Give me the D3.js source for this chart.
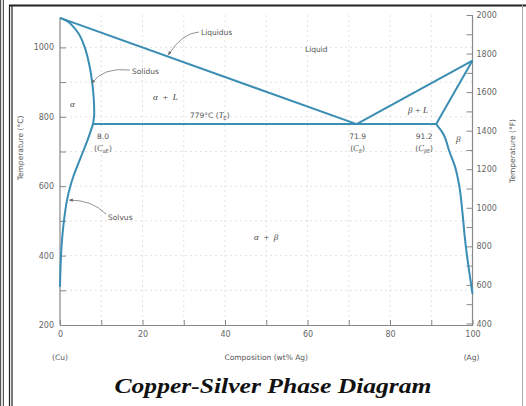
<!DOCTYPE html>
<html>
<head>
<meta charset="utf-8">
<script src="https://cdn.jsdelivr.net/npm/d3@7"></script>
<style>
  html, body { margin: 0; padding: 0; background: #ffffff; }
  svg { display: block; }
  .tick-label { font-family: "DejaVu Sans", sans-serif; font-size: 8px; fill: #666; }
  .note { font-family: "DejaVu Sans", sans-serif; font-size: 7.5px; fill: #555; }
  .greek { font-family: "Liberation Serif", serif; font-style: italic; font-size: 9px; fill: #444; }
</style>
</head>
<body>
<svg id="chart" width="526" height="406"></svg>
<script>
// Composition axis (wt% Ag) and temperature axes
const compTicks = [0, 20, 40, 60, 80, 100];
const compMinorTicks = [10, 30, 50, 70, 90];
const tempCTicks = [200, 400, 600, 800, 1000];
const tempCMinorTicks = [300, 500, 700, 900];
const tempFTicks = [400, 600, 800, 1000, 1200, 1400, 1600, 1800, 2000];
const tempFMinorTicks = [500, 700, 900, 1100, 1300, 1500, 1700, 1900];

// Phase boundaries as [wt% Ag, °C]
const liquidusAlpha = [[0, 1085], [71.9, 779]];
const liquidusBeta = [[71.9, 779], [100, 962]];
const solidusAlpha = [[0, 1085], [1.8, 1075], [3.2, 1060], [4.5, 1040], [6.0, 1000], [7.1, 950],
                      [7.8, 900], [8.2, 850], [8.3, 810], [8.0, 779]];
const solvusAlpha = [[8.0, 779], [6.9, 740], [5.6, 700], [4.5, 667], [3.3, 630], [2.5, 600],
                     [1.7, 560], [1.2, 523], [0.6, 460], [0.25, 400], [0, 310]];
const solidusBeta = [[91.2, 779], [100, 962]];
const solvusBeta = [[91.2, 779], [92.8, 753], [94.4, 700], [95.8, 655], [96.8, 600], [97.6, 520],
                    [98.2, 445], [98.8, 388], [99.5, 330], [100, 290]];
const eutectic = [[8.0, 779], [91.2, 779]];

// Invariant-point values
const eutecticTemp = 779;
const cAlphaE = 8.0, cE = 71.9, cBetaE = 91.2;

const svg = d3.select("#chart");
const lineColor = "#3a8db3";

const x = d3.scaleLinear().domain([0, 100]).range([60, 472.5]);
const y = d3.scaleLinear().domain([200, 1000]).range([325, 47.4]);
const fToC = f => (f - 32) * 5 / 9;
// Fahrenheit scale sharing the same pixel range (200 °C = 392 °F, 1000 °C = 1832 °F)
const yF = d3.scaleLinear().domain([392, 1832]).range([325, 47.4]);
const topC = fToC(2000);

// Frame
svg.append("rect").attr("x", 0.5).attr("y", -2).attr("width", 3).attr("height", 410)
  .attr("fill", "#ddd").attr("stroke", "#555").attr("stroke-width", 1);
svg.append("line").attr("x1", 9.5).attr("x2", 9.5).attr("y1", 5).attr("y2", 406)
  .attr("stroke", "#222").attr("stroke-width", 1.2);
svg.append("line").attr("x1", 12).attr("x2", 12).attr("y1", 5).attr("y2", 406)
  .attr("stroke", "#222").attr("stroke-width", 1.2);
svg.append("line").attr("x1", 9).attr("x2", 526).attr("y1", 5.5).attr("y2", 5.5)
  .attr("stroke", "#222").attr("stroke-width", 1.8);
svg.append("line").attr("x1", 522.5).attr("x2", 522.5).attr("y1", 5).attr("y2", 406)
  .attr("stroke", "#aaa").attr("stroke-width", 1);

// Grid
const grid = svg.append("g").attr("stroke", "#dcdcdc").attr("stroke-width", 0.8).attr("stroke-dasharray", "2,3");
d3.range(10, 100, 10).forEach(c => {
  grid.append("line").attr("x1", x(c)).attr("x2", x(c)).attr("y1", y(topC)).attr("y2", y(200));
});
d3.range(300, 1100, 100).forEach(t => {
  grid.append("line").attr("x1", x(0)).attr("x2", x(100)).attr("y1", y(t)).attr("y2", y(t));
});

// Axes (ticks pointing inward)
const axisColor = "#888";
const gx = svg.append("g").attr("transform", `translate(0,${y(200)})`)
  .call(d3.axisBottom(x).tickValues(compTicks).tickSize(0).tickPadding(6).tickFormat(d3.format("d")));
gx.select(".domain").attr("stroke", axisColor).attr("stroke-width", 1.2);
gx.selectAll("text").attr("class", "tick-label");
const gxIn = svg.append("g").attr("transform", `translate(0,${y(200)})`)
  .call(d3.axisTop(x).tickValues(compTicks.concat(compMinorTicks)).tickSize(5).tickFormat(""));
gxIn.select(".domain").remove();
gxIn.selectAll("line").attr("stroke", axisColor);

const gyL = svg.append("g").attr("transform", `translate(${x(0)},0)`)
  .call(d3.axisLeft(y).tickValues(tempCTicks).tickSize(0).tickPadding(6).tickFormat(d3.format("d")));
gyL.select(".domain").remove();
gyL.selectAll("text").attr("class", "tick-label");
const gyLIn = svg.append("g").attr("transform", `translate(${x(0)},0)`)
  .call(d3.axisRight(y).tickValues(tempCTicks.concat(tempCMinorTicks)).tickSize(6).tickFormat(""));
gyLIn.select(".domain").remove();
gyLIn.selectAll("line").attr("stroke", axisColor);
svg.append("line").attr("x1", x(0)).attr("x2", x(0)).attr("y1", y(1085)).attr("y2", y(200))
  .attr("stroke", axisColor).attr("stroke-width", 1.2);

const gyR = svg.append("g").attr("transform", `translate(${x(100)},0)`)
  .call(d3.axisRight(yF).tickValues(tempFTicks).tickSize(0).tickPadding(4).tickFormat(d3.format("d")));
gyR.select(".domain").remove();
gyR.selectAll("text").attr("class", "tick-label");
const gyRIn = svg.append("g").attr("transform", `translate(${x(100)},0)`)
  .call(d3.axisLeft(yF).tickValues(tempFTicks.concat(tempFMinorTicks)).tickSize(6).tickFormat(""));
gyRIn.select(".domain").remove();
gyRIn.selectAll("line").attr("stroke", axisColor);
svg.append("line").attr("x1", x(100)).attr("x2", x(100)).attr("y1", yF(2000)).attr("y2", y(200))
  .attr("stroke", axisColor).attr("stroke-width", 1.2);

// Axis titles
svg.append("text").attr("class", "note")
  .attr("transform", "translate(23,148) rotate(-90)").attr("text-anchor", "middle")
  .text("Temperature (°C)");
svg.append("text").attr("class", "note")
  .attr("transform", "translate(515,151) rotate(-90)").attr("text-anchor", "middle")
  .text("Temperature (°F)");
svg.append("text").attr("class", "note").attr("x", x(50)).attr("y", 360).attr("text-anchor", "middle")
  .text("Composition (wt% Ag)");
svg.append("text").attr("class", "note").attr("x", x(0)).attr("y", 360).attr("text-anchor", "middle").text("(Cu)");
svg.append("text").attr("class", "note").attr("x", x(100) - 1).attr("y", 360).attr("text-anchor", "middle").text("(Ag)");

// Phase boundaries
const straight = d3.line().x(d => x(d[0])).y(d => y(d[1]));
const curved = d3.line().x(d => x(d[0])).y(d => y(d[1])).curve(d3.curveMonotoneY);
const drawLine = (data, gen) => svg.append("path").datum(data).attr("d", gen)
  .attr("fill", "none").attr("stroke", lineColor).attr("stroke-width", 2).attr("stroke-linejoin", "round");
drawLine(eutectic, straight);
drawLine(liquidusAlpha, straight);
drawLine(liquidusBeta, straight);
drawLine(solidusBeta, straight);
drawLine(solidusAlpha, curved);
drawLine(solvusAlpha, curved);
drawLine(solvusBeta, curved);

// Leader lines with arrowheads
svg.append("defs").append("marker").attr("id", "arrow").attr("viewBox", "0 0 6 6")
  .attr("refX", 5).attr("refY", 3).attr("markerWidth", 5).attr("markerHeight", 5).attr("orient", "auto")
  .append("path").attr("d", "M0,0.5 L6,3 L0,5.5 Z").attr("fill", "#666");
const leader = (x1, y1, cx, cy, x2, y2) => svg.append("path")
  .attr("d", `M${x1},${y1} Q${cx},${cy} ${x2},${y2}`)
  .attr("fill", "none").attr("stroke", "#777").attr("stroke-width", 0.8).attr("marker-end", "url(#arrow)");
const liqAt = 26.3;
leader(199, 32, 182, 33, x(liqAt), y(1085 - (1085 - 779) * liqAt / 71.9) - 2);
leader(130, 70, 103, 67, x(7.75), y(900) + 1);
leader(106, 214, 92, 200, x(2.3), y(560));

// Region and curve labels
const note = (tx, ty, t, anchor = "start") => svg.append("text").attr("class", "note")
  .attr("x", tx).attr("y", ty).attr("text-anchor", anchor).text(t);
note(201, 35, "Liquidus");
note(305, 52, "Liquid");
note(132, 74, "Solidus");
note(108, 220, "Solvus");

const greek = (tx, ty, t) => svg.append("text").attr("class", "greek").attr("x", tx).attr("y", ty)
  .attr("xml:space", "preserve").text(t);
greek(70, 107, "α");
greek(153, 100, "α  +  L");
greek(408, 113, "β + L");
greek(456, 142, "β");
greek(254, 240, "α  +  β");

// Eutectic temperature label
const te = svg.append("text").attr("class", "note").attr("x", 190).attr("y", 118);
te.append("tspan").text(`${eutecticTemp}°C (`);
te.append("tspan").attr("font-family", "Liberation Serif, serif").attr("font-style", "italic").attr("font-size", 8.5).text("T");
te.append("tspan").attr("font-size", 5.5).attr("dy", 2).text("E");
te.append("tspan").attr("dy", -2).text(")");

// Invariant composition labels
const compLabel = (c, cx, sub) => {
  note(cx, 139, c.toFixed(1), "middle");
  const t = svg.append("text").attr("class", "note").attr("x", cx).attr("y", 151).attr("text-anchor", "middle");
  t.append("tspan").text("(");
  t.append("tspan").attr("font-family", "Liberation Serif, serif").attr("font-style", "italic").attr("font-size", 8.5).text("C");
  t.append("tspan").attr("font-family", "Liberation Serif, serif").attr("font-style", "italic").attr("font-size", 5.5).attr("dy", 2).text(sub);
  t.append("tspan").attr("dy", -2).text(")");
};
compLabel(cAlphaE, x(cAlphaE) + 10, "αE");
compLabel(cE, x(cE) + 1, "E");
compLabel(cBetaE, x(cBetaE) - 12, "βE");

// Title
svg.append("text").attr("x", 273).attr("y", 393).attr("text-anchor", "middle")
  .attr("font-family", "Liberation Serif, 'Times New Roman', serif").attr("font-weight", "bold")
  .attr("font-style", "italic").attr("font-size", 22).attr("fill", "#111")
  .attr("textLength", 317).attr("lengthAdjust", "spacingAndGlyphs")
  .text("Copper-Silver Phase Diagram");
</script>
</body>
</html>
